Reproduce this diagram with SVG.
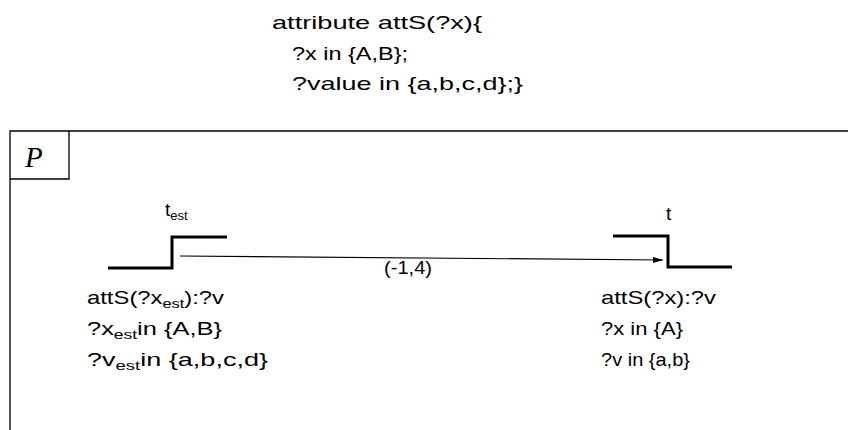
<svg xmlns="http://www.w3.org/2000/svg" width="848" height="430" viewBox="0 0 848 430">
<defs>
<style>
.t{font-family:"Liberation Sans",Arial,sans-serif;font-size:19px;fill:#000}
.sub{font-size:13px}
.frame{fill:none;stroke:#000;stroke-width:1.3}
.step{fill:none;stroke:#000;stroke-width:3}
.arrow{fill:none;stroke:#000;stroke-width:1.2}
</style>
<marker id="ah" viewBox="0 0 10 6" refX="10" refY="3" markerWidth="10" markerHeight="6" markerUnits="userSpaceOnUse" orient="auto">
<path d="M0,0 L10,3 L0,6 z" fill="#000"/>
</marker>
</defs>
<rect width="848" height="430" fill="#fff"/>
<g id="attribute-decl">
<text class="t" x="272" y="29" textLength="210" lengthAdjust="spacingAndGlyphs">attribute attS(?x){</text>
<text class="t" x="292" y="60" textLength="116" lengthAdjust="spacingAndGlyphs">?x in {A,B};</text>
<text class="t" x="292" y="90" textLength="231" lengthAdjust="spacingAndGlyphs">?value in {a,b,c,d};}</text>
</g>
<g id="frame-P">
<path class="frame" d="M10,430 V131 H848"/>
<path class="frame" d="M10,179 H69 V131"/>
<text x="25" y="167" style="font-family:'Liberation Serif',serif;font-style:italic;font-size:29px">P</text>
</g>
<g id="node-test">
<path class="step" d="M108,268 H172 V237 H227"/>
<text class="t" x="165" y="216">t<tspan class="sub" dy="4">est</tspan></text>
<text class="t" x="87" y="304" textLength="137" lengthAdjust="spacingAndGlyphs">attS(?x<tspan class="sub" dy="4">est</tspan><tspan dy="-4">):?v</tspan></text>
<text class="t" x="87" y="335" textLength="135" lengthAdjust="spacingAndGlyphs">?x<tspan class="sub" dy="4">est</tspan><tspan dy="-4">in {A,B}</tspan></text>
<text class="t" x="87" y="366" textLength="181" lengthAdjust="spacingAndGlyphs">?v<tspan class="sub" dy="4">est</tspan><tspan dy="-4">in {a,b,c,d}</tspan></text>
</g>
<g id="node-t">
<path class="step" d="M613,236 H668 V267 H732"/>
<text class="t" x="666" y="220">t</text>
<text class="t" x="601" y="304" textLength="115" lengthAdjust="spacingAndGlyphs">attS(?x):?v</text>
<text class="t" x="601" y="335" textLength="82" lengthAdjust="spacingAndGlyphs">?x in {A}</text>
<text class="t" x="601" y="366" textLength="89" lengthAdjust="spacingAndGlyphs">?v in {a,b}</text>
</g>
<g id="connectors">
<line class="arrow" x1="180" y1="256" x2="663" y2="260" marker-end="url(#ah)"/>
<text class="t" x="384" y="274" textLength="48" lengthAdjust="spacingAndGlyphs">(-1,4)</text>
</g>
</svg>
